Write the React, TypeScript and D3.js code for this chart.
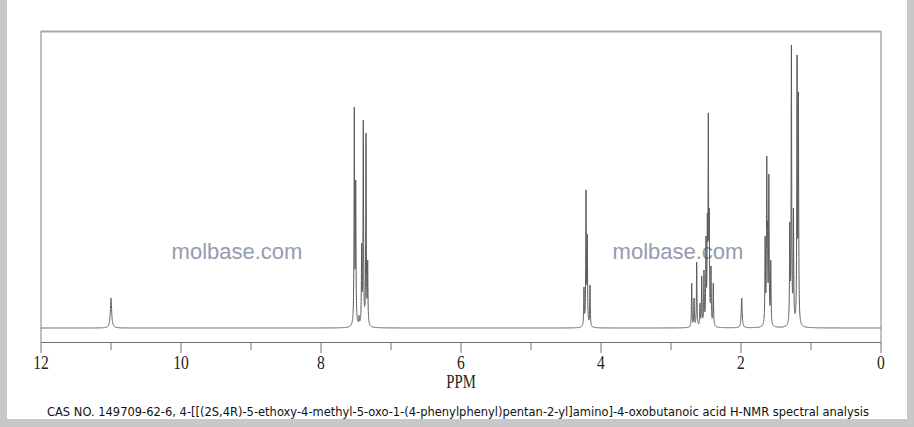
import React from "react";
import * as d3 from "d3";

// Peak list (chemical shift in ppm, relative intensity 0-100, half-width in ppm)
const peakPpm = [
  11.0,
  7.553, 7.524, 7.504, 7.457, 7.419, 7.396, 7.357, 7.333,
  4.243, 4.214, 4.196, 4.157,
  2.704, 2.671, 2.633, 2.586, 2.561, 2.529, 2.5, 2.481, 2.467, 2.453, 2.429, 2.396,
  1.99,
  1.655, 1.632, 1.622, 1.602, 1.575,
  1.303, 1.28, 1.251, 1.199, 1.18,
];
const peakHeight = [
  10.6,
  2.5, 78.1, 52.3, 4.5, 30.0, 73.5, 68.9, 24.0,
  14.5, 48.8, 33.2, 15.2,
  15.9, 10.6, 23.3, 8.8, 18.4, 20.5, 32.5, 40.6, 76.0, 42.4, 21.9, 15.9,
  10.6,
  32.5, 60.8, 37.5, 54.4, 24.0,
  37.5, 100, 42.4, 96.5, 83.4,
];
const peakWidth = [
  0.011,
  0.0045, 0.0045, 0.0045, 0.0045, 0.0045, 0.0045, 0.0045, 0.0045,
  0.0045, 0.0045, 0.0045, 0.0045,
  0.0045, 0.0045, 0.0045, 0.0045, 0.0045, 0.0045, 0.0045, 0.0045, 0.0045, 0.0045, 0.0045, 0.0045,
  0.008,
  0.0045, 0.0045, 0.0045, 0.0045, 0.0045,
  0.0045, 0.0045, 0.0045, 0.0045, 0.0045,
];
const majorTicks = [12, 10, 8, 6, 4, 2, 0];
const minorTicks = [11, 9, 7, 5, 3, 1];
const xLabel = "PPM";
const caption =
  "CAS NO. 149709-62-6, 4-[[(2S,4R)-5-ethoxy-4-methyl-5-oxo-1-(4-phenylphenyl)pentan-2-yl]amino]-4-oxobutanoic acid H-NMR spectral analysis";
const watermark = "molbase.com";
const watermarkPpm = [9.2, 2.9];

function lor(d: number, g: number) {
  return (g * g) / (d * d + g * g);
}

function solveAmplitudes(): number[] {
  const n = peakPpm.length;
  const a = peakHeight.slice();
  for (let it = 0; it < 40; it++) {
    for (let i = 0; i < n; i++) {
      let s = 0;
      for (let j = 0; j < n; j++) s += a[j] * lor(peakPpm[i] - peakPpm[j], peakWidth[j]);
      a[i] = Math.max(0, a[i] + 0.7 * (peakHeight[i] - s));
    }
  }
  return a;
}

export default function App() {
  const W = 914;
  const H = 427;
  const x = d3.scaleLinear().domain([12, 0]).range([41, 881]);
  const y = d3.scaleLinear().domain([0, 100]).range([328, 45]);
  const amps = solveAmplitudes();

  const samples: number[] = [];
  for (let p = 12; p >= 0; p -= 0.0008) samples.push(p);
  peakPpm.forEach((p) => samples.push(p));
  samples.sort((a, b) => b - a);
  const pts: [number, number][] = samples.map((p) => {
    let s = 0;
    for (let j = 0; j < peakPpm.length; j++) s += amps[j] * lor(p - peakPpm[j], peakWidth[j]);
    return [p, s];
  });
  const line = d3
    .line<[number, number]>()
    .x((d) => x(d[0]))
    .y((d) => y(d[1]));

  const serif = "'Liberation Serif', 'DejaVu Serif', serif";
  const sx = 0.82;

  return (
    <svg
      width={W}
      height={H}
      style={{ position: "absolute", left: 0, top: 0, display: "block" }}
    >
      <rect x={0} y={0} width={W} height={H} fill="#c8c8c8" />
      <rect x={7} y={0} width={900} height={419} fill="#ffffff" />
      {/* frame */}
      <line x1={x(12)} x2={x(12)} y1={31} y2={342} stroke="#808080" strokeWidth={1} />
      <line x1={x(0)} x2={x(0)} y1={31} y2={342} stroke="#808080" strokeWidth={1} />
      <line x1={x(12)} x2={x(0)} y1={31.5} y2={31.5} stroke="#a8a8a8" strokeWidth={2} />
      <line x1={x(12)} x2={x(0)} y1={342.5} y2={342.5} stroke="#707070" strokeWidth={1} />
      {majorTicks.map((t) => (
        <line key={"M" + t} x1={x(t)} x2={x(t)} y1={342} y2={353} stroke="#707070" strokeWidth={1} />
      ))}
      {minorTicks.map((t) => (
        <line key={"m" + t} x1={x(t)} x2={x(t)} y1={342} y2={350} stroke="#707070" strokeWidth={1} />
      ))}
      {majorTicks.map((t) => (
        <text
          key={"L" + t}
          transform={`translate(${x(t)},369) scale(${sx},1)`}
          textAnchor="middle"
          fontFamily={serif}
          fontSize={19}
          fill="#222"
        >
          {t}
        </text>
      ))}
      <text
        transform={`translate(${x(6)},388) scale(${sx},1)`}
        textAnchor="middle"
        fontFamily={serif}
        fontSize={18}
        fill="#222"
      >
        {xLabel}
      </text>
      {/* watermarks */}
      {watermarkPpm.map((p, i) => (
        <text
          key={"w" + i}
          x={x(p)}
          y={259}
          textAnchor="middle"
          fontFamily="'Liberation Sans', Arial, sans-serif"
          fontSize={22}
          fill="#949cb0"
        >
          {watermark}
        </text>
      ))}
      {/* spectrum */}
      <path d={line(pts) || ""} fill="none" stroke="#5a5a5a" strokeWidth={1} />
      <text
        x={458}
        y={416}
        textAnchor="middle"
        fontFamily="'DejaVu Sans', 'Liberation Sans', sans-serif"
        fontSize={12}
        textLength={822}
        lengthAdjust="spacingAndGlyphs"
        fill="#111"
      >
        {caption}
      </text>
    </svg>
  );
}
